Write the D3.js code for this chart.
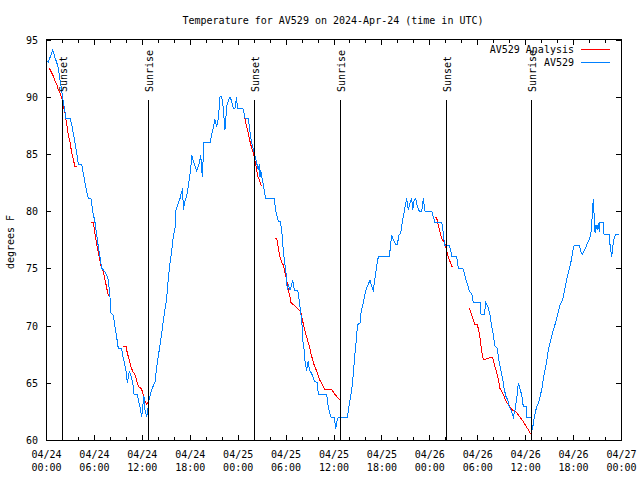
<!DOCTYPE html>
<html><head><meta charset="utf-8">
<script src="https://cdn.jsdelivr.net/npm/d3@7"></script>
<style>
body{margin:0;background:#fff}
svg{display:block}
text{font-family:"DejaVu Sans Mono","Liberation Mono",monospace;font-size:10px;fill:#000}
</style></head><body>
<svg id="c" width="640" height="480"></svg>
<script>
// ---- data (hours since 2024-04-24 00:00 UTC) ----
const titleText = "Temperature for AV529 on 2024-Apr-24 (time in UTC)";
const yLabel = "degrees F";
const seriesNames = ["AV529 Analysis", "AV529"];
const yTicks = [60, 65, 70, 75, 80, 85, 90, 95];

const blueHours = [0.09,0.29,0.84,1.13,1.34,1.54,1.75,1.97,2.17,2.38,2.50,3.01,3.22,3.42,3.63,3.84,4.04,4.47,4.67,4.88,5.10,5.30,5.63,5.85,6.14,6.35,6.55,6.76,6.97,7.18,7.60,7.80,8.01,8.14,8.43,8.64,8.85,9.05,9.48,9.60,9.77,10.02,10.18,10.31,10.43,10.73,10.93,11.02,11.43,11.56,11.77,11.98,12.11,12.27,12.40,12.61,12.73,12.90,13.24,13.65,13.86,14.06,14.27,14.49,14.69,14.90,15.11,15.31,15.53,15.74,15.94,16.15,16.28,16.57,16.78,16.99,17.12,17.19,17.41,17.62,17.82,17.94,18.12,18.24,18.53,18.87,19.20,19.37,19.57,19.78,20.54,20.75,20.95,21.16,21.38,21.58,21.79,22.00,22.20,22.41,22.63,22.83,23.04,23.25,23.45,23.67,23.88,23.95,24.63,24.79,24.92,25.33,25.46,25.63,25.76,25.96,26.17,26.38,26.58,26.71,26.80,26.88,27.08,27.21,27.42,27.51,28.59,28.76,28.89,29.09,29.30,29.51,29.64,29.80,29.93,30.05,30.22,30.34,30.55,30.77,30.89,31.09,31.52,31.72,31.89,32.02,32.08,32.14,32.31,32.43,32.64,32.72,32.85,32.97,33.27,33.47,33.68,33.97,34.10,35.15,35.27,35.44,35.69,36.10,36.28,36.40,36.60,37.73,37.98,38.28,38.48,38.69,38.82,38.91,39.03,39.32,39.44,39.61,39.73,39.95,40.16,40.36,40.57,40.78,40.98,41.11,41.29,41.41,41.61,42.99,43.16,43.29,43.49,43.79,43.99,44.20,44.42,44.54,44.74,44.87,45.04,45.17,45.37,45.58,45.79,45.92,46.08,46.29,46.49,46.74,47.05,47.25,47.46,48.30,48.50,48.71,49.55,49.67,49.84,49.96,50.50,50.68,50.80,51.43,51.63,52.18,52.34,52.56,52.80,53.01,53.31,53.51,54.35,54.47,54.89,55.06,55.31,55.60,55.81,56.01,56.22,56.51,56.72,56.98,57.19,57.39,57.60,57.81,58.01,58.31,58.52,58.73,58.94,59.14,59.35,59.57,59.77,60.11,60.19,60.73,60.82,60.94,61.02,61.23,61.44,61.65,61.86,62.07,62.27,62.48,62.70,62.90,63.11,63.32,63.52,63.74,63.95,64.15,64.36,64.58,64.78,64.99,65.20,65.40,65.62,65.83,65.95,66.12,66.78,66.96,67.16,67.37,67.58,67.78,67.99,68.21,68.33,68.46,68.53,68.62,68.75,68.87,69.03,69.16,69.28,69.37,69.78,69.87,70.50,70.62,70.84,70.96,71.13,71.34,71.75];
const blueTemps = [93.1,93.0,94.1,93.4,93.0,92.5,91.5,90.5,89.5,88.7,88.1,88.1,87.6,86.8,86.0,85.1,84.1,84.1,83.3,82.5,81.7,81.1,81.1,80.0,79.0,77.9,76.9,76.0,75.0,74.9,74.4,74.0,72.5,71.1,70.9,69.9,69.0,68.0,68.0,67.4,66.9,66.0,65.0,65.5,66.0,65.4,64.7,64.0,64.0,63.5,62.9,62.0,62.9,63.8,62.6,62.0,62.6,63.5,64.4,65.1,66.4,67.3,68.3,69.3,70.4,71.4,72.4,74.1,75.5,76.5,77.8,78.5,80.1,80.7,81.1,81.7,82.0,80.1,80.9,81.3,82.2,82.8,83.6,84.9,84.2,83.5,84.2,84.9,83.0,86.0,86.0,86.7,87.3,88.0,87.4,88.1,90.0,90.0,89.0,87.1,89.2,89.6,90.0,89.6,89.0,89.0,90.0,89.0,89.0,88.6,88.1,88.1,87.4,86.5,86.0,85.4,84.8,84.2,83.6,84.1,83.0,83.6,82.8,82.3,81.4,81.1,81.1,80.0,79.7,79.1,79.1,78.5,77.1,76.0,75.3,74.6,73.1,73.6,73.1,73.6,74.0,73.1,73.1,72.1,71.1,70.5,69.8,68.8,67.9,66.9,66.0,66.6,66.9,66.1,65.8,65.4,65.1,65.0,64.0,64.0,63.2,62.6,62.0,62.0,61.0,61.6,62.0,62.0,63.1,64.4,65.8,67.6,68.5,69.3,70.1,70.2,71.1,71.7,72.0,72.8,73.3,73.6,74.0,73.4,73.1,73.7,74.6,75.2,76.0,76.0,77.1,77.9,77.5,77.1,77.1,77.9,78.1,78.7,79.5,80.0,80.7,81.1,80.1,80.7,81.1,80.1,80.9,81.1,80.4,80.0,80.0,81.1,80.0,80.0,79.5,79.0,79.0,78.5,77.5,77.0,77.0,76.6,76.0,76.0,75.0,75.0,74.7,74.0,73.6,73.0,72.8,72.0,72.0,71.0,71.0,72.0,71.7,70.9,69.9,69.2,68.2,68.0,66.9,66.0,65.3,64.4,63.8,63.5,62.9,62.5,62.0,62.6,63.6,65.0,64.5,63.9,62.9,62.9,62.0,62.0,61.5,60.9,61.5,62.3,62.9,63.2,63.8,64.4,65.3,66.1,66.9,67.9,68.5,69.1,69.6,70.1,70.6,71.2,71.8,72.1,72.5,73.3,74.0,74.6,75.2,75.9,76.5,77.0,77.0,76.5,76.2,76.5,76.8,77.2,77.5,77.9,78.9,80.3,81.1,79.8,78.1,78.8,78.4,79.0,78.2,79.0,79.0,78.0,78.0,77.1,76.0,76.9,77.6,78.0,78.0];

// analysis series: null marks a gap between segments
const redHours = [0.41,0.71,0.91,1.13,1.34,1.54,1.75,1.97,2.17,2.38,2.59,2.79,3.01,3.22,3.42,3.63,3.92,null,
  5.63,5.92,6.05,6.26,6.42,6.67,6.89,7.10,7.30,7.51,7.80,null,
  9.60,10.02,10.18,10.43,10.64,10.86,11.14,11.36,11.56,11.90,12.11,12.27,12.40,12.61,12.81,null,
  24.86,25.13,25.33,25.54,25.76,25.96,26.17,26.38,26.58,26.71,26.88,27.01,null,
  28.68,28.89,29.09,29.30,29.51,29.71,29.93,30.14,30.34,30.55,30.68,31.18,31.59,31.89,32.14,32.43,32.72,32.97,33.27,33.56,33.90,34.31,34.72,34.94,35.77,36.06,36.40,36.81,null,
  48.71,48.92,49.12,49.34,49.55,49.75,49.96,50.17,50.37,50.59,50.80,51.00,null,
  53.01,53.31,53.51,53.72,54.01,54.26,54.43,54.56,54.76,55.19,55.60,55.94,56.10,56.35,56.64,56.85,57.19,57.48,57.76,58.10,58.44,58.94,59.35,59.77,60.11,60.40,60.61,60.82];
const redTemps = [92.5,92.1,91.8,91.4,91.1,90.6,90.3,89.9,89.2,88.6,87.6,86.7,86.0,85.1,84.5,83.9,83.9,null,
  79.0,79.0,78.4,77.5,76.8,76.0,75.2,74.9,74.3,73.6,72.6,null,
  68.2,68.2,67.6,67.0,66.4,66.0,65.7,65.2,64.7,64.5,64.2,63.6,63.4,63.1,63.4,null,
  88.2,87.4,86.8,86.1,85.5,85.1,84.4,83.6,82.9,82.8,82.3,82.2,null,
  77.6,77.6,76.8,76.0,75.5,75.3,74.6,74.0,73.1,72.5,72.0,71.7,71.4,71.2,70.4,69.5,68.8,68.2,67.3,66.6,66.0,65.2,64.7,64.4,64.4,64.1,63.8,63.5,null,
  79.5,79.4,78.8,78.2,77.6,77.4,77.1,76.6,76.0,75.6,75.2,75.2,null,
  71.5,70.9,70.5,70.1,70.1,69.3,68.5,67.7,67.0,67.1,67.2,67.2,66.7,66.1,65.3,64.5,64.1,63.6,63.2,62.9,62.6,62.4,62.0,61.6,61.2,60.9,60.6,60.6];

const sunEventNames = ["Sunset","Sunrise","Sunset","Sunrise","Sunset","Sunrise"];
const sunEventHours = [2.04, 12.81, 26.08, 36.85, 50.13, 60.77];

// ---- drawing ----
const svg = d3.select("#c");
const L = 46, R = 621, T = 39.5, B = 440;
const t0 = Date.UTC(2024,3,24,0,0);
const toDate = h => new Date(t0 + h*3600000);
const x = d3.scaleUtc().domain([toDate(0), toDate(72)]).range([L, R]);
const y = d3.scaleLinear().domain([60, 95]).range([B, T]);

const blue = blueHours.map((h,i)=>({t:toDate(h), v:blueTemps[i]}));
const red = redHours.map((h,i)=>({t:h===null?null:toDate(h), v:redTemps[i]}));

// title
svg.append("text").attr("x", 333).attr("y", 24).attr("text-anchor","middle").text(titleText);
// y label
svg.append("text").attr("transform","translate(14,242) rotate(-90)").attr("text-anchor","middle").text(yLabel);

const majorTicks = d3.range(0, 73, 6).map(toDate);
const minorTicks = d3.range(0, 73, 2).map(toDate);

// bottom axis (major, labelled)
const gB = svg.append("g").attr("transform",`translate(0,${B})`)
  .call(d3.axisBottom(x).tickValues(majorTicks).tickSize(-5).tickPadding(0).tickFormat(d3.utcFormat("%m/%d")));
gB.select(".domain").remove();
gB.selectAll(".tick text").each(function(d){
  const t = d3.select(this);
  t.attr("dy", null).attr("y", null).text(null);
  t.append("tspan").attr("x",0).attr("y",18).text(d3.utcFormat("%m/%d")(d));
  t.append("tspan").attr("x",0).attr("y",30.5).text(d3.utcFormat("%H:%M")(d));
});
// minor bottom ticks
const gBm = svg.append("g").attr("transform",`translate(0,${B})`)
  .call(d3.axisBottom(x).tickValues(minorTicks).tickSize(-3).tickFormat(""));
gBm.select(".domain").remove();
// top axis mirrored
const gT = svg.append("g").attr("transform",`translate(0,${T})`)
  .call(d3.axisTop(x).tickValues(majorTicks).tickSize(-5).tickFormat(""));
gT.select(".domain").remove();
const gTm = svg.append("g").attr("transform",`translate(0,${T})`)
  .call(d3.axisTop(x).tickValues(minorTicks).tickSize(-3).tickFormat(""));
gTm.select(".domain").remove();
// left axis
const gL = svg.append("g").attr("transform",`translate(${L},0)`)
  .call(d3.axisLeft(y).tickValues(yTicks).tickSize(-5).tickPadding(8).tickFormat(d3.format("d")));
gL.select(".domain").remove();
gL.selectAll(".tick text").attr("dy","0.35em");
// right axis mirrored
const gR = svg.append("g").attr("transform",`translate(${R},0)`)
  .call(d3.axisRight(y).tickValues(yTicks).tickSize(-5).tickFormat(""));
gR.select(".domain").remove();

svg.selectAll(".tick line").attr("stroke","#000").attr("shape-rendering","crispEdges");
svg.selectAll(".tick text").attr("font-family",null).attr("font-size",null).attr("fill","#000");
svg.selectAll("g").attr("font-family",null).attr("font-size",null);

// series
const line = d3.line().defined(d=>d.t!==null).x(d=>x(d.t)).y(d=>y(d.v));
svg.append("path").datum(red).attr("d", line).attr("fill","none").attr("stroke","#ff0000").attr("stroke-width",1).attr("shape-rendering","crispEdges");
svg.append("path").datum(blue).attr("d", line).attr("fill","none").attr("stroke","#0080ff").attr("stroke-width",1).attr("shape-rendering","crispEdges");

// sunrise / sunset markers
sunEventHours.forEach((h,i)=>{
  const xx = Math.round(x(toDate(h))) + 0.5;
  svg.append("line").attr("x1",xx).attr("x2",xx).attr("y1",B).attr("y2",y(60+35*0.85))
    .attr("stroke","#000").attr("stroke-width",1).attr("shape-rendering","crispEdges");
  svg.append("text").attr("transform",`translate(${xx+4},92) rotate(-90)`).attr("text-anchor","start").text(sunEventNames[i]);
});

// border
svg.append("rect").attr("x",L+0.5).attr("y",T).attr("width",R-L-0.5).attr("height",B-T)
  .attr("fill","none").attr("stroke","#000").attr("stroke-width",1).attr("shape-rendering","crispEdges");

// legend
const legColors = ["#ff0000","#0080ff"];
seriesNames.forEach((n,i)=>{
  const ly = 49.5 + i*13;
  svg.append("text").attr("x",574).attr("y",ly).attr("dy","0.35em").attr("text-anchor","end").text(n);
  svg.append("line").attr("x1",581).attr("x2",610).attr("y1",ly).attr("y2",ly)
    .attr("stroke",legColors[i]).attr("stroke-width",1).attr("shape-rendering","crispEdges");
});
</script>
</body></html>
